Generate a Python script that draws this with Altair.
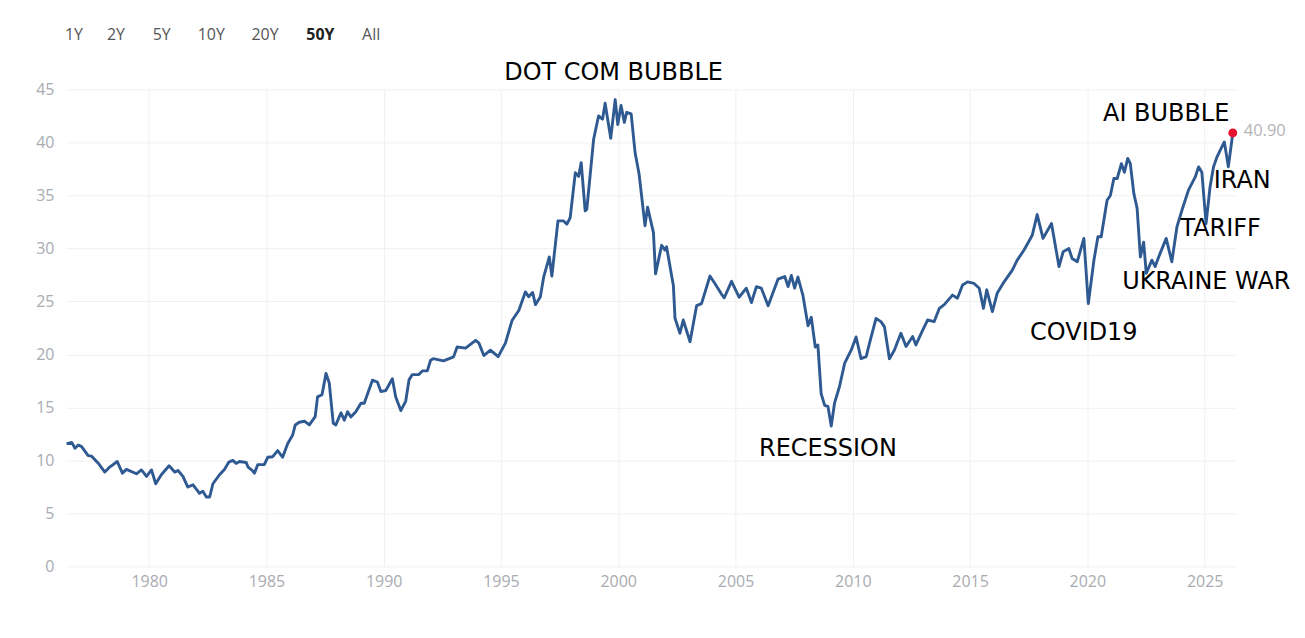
import altair as alt
import pandas as pd

years = [
    1976.48, 1976.70, 1976.84, 1976.98, 1977.12, 1977.40, 1977.55, 1977.83, 1978.11, 1978.32,
    1978.64, 1978.86, 1979.03, 1979.46, 1979.67, 1979.89, 1980.10, 1980.28, 1980.52, 1980.85,
    1981.09, 1981.23, 1981.44, 1981.65, 1981.87, 1982.15, 1982.29, 1982.44, 1982.58, 1982.72,
    1983.00, 1983.21, 1983.40, 1983.57, 1983.71, 1983.85, 1984.14, 1984.21, 1984.42, 1984.49,
    1984.63, 1984.91, 1985.06, 1985.27, 1985.48, 1985.69, 1985.91, 1986.12, 1986.23, 1986.40,
    1986.62, 1986.83, 1987.08, 1987.18, 1987.37, 1987.54, 1987.68, 1987.85, 1987.96, 1988.18,
    1988.32, 1988.46, 1988.60, 1988.81, 1989.03, 1989.17, 1989.52, 1989.73, 1989.88, 1990.09,
    1990.37, 1990.51, 1990.73, 1990.94, 1991.08, 1991.22, 1991.50, 1991.65, 1991.86, 1992.00,
    1992.11, 1992.55, 1992.98, 1993.13, 1993.49, 1993.92, 1994.06, 1994.27, 1994.55, 1994.88,
    1995.19, 1995.47, 1995.76, 1996.04, 1996.18, 1996.35, 1996.47, 1996.68, 1996.82, 1997.06,
    1997.17, 1997.43, 1997.67, 1997.81, 1997.95, 1998.17, 1998.31, 1998.42, 1998.59, 1998.66,
    1998.95, 1999.16, 1999.33, 1999.44, 1999.68, 1999.87, 1999.98, 2000.12, 2000.26, 2000.36,
    2000.55, 2000.72, 2000.89, 2001.14, 2001.25, 2001.50, 2001.59, 2001.85, 2001.99, 2002.06,
    2002.35, 2002.42, 2002.63, 2002.77, 2003.06, 2003.34, 2003.55, 2003.91, 2004.12, 2004.40,
    2004.52, 2004.83, 2005.15, 2005.46, 2005.68, 2005.89, 2006.10, 2006.39, 2006.81, 2007.10,
    2007.24, 2007.38, 2007.52, 2007.66, 2007.87, 2008.09, 2008.23, 2008.40, 2008.51, 2008.65,
    2008.80, 2008.94, 2009.08, 2009.22, 2009.43, 2009.65, 2009.93, 2010.14, 2010.35, 2010.57,
    2010.71, 2010.99, 2011.20, 2011.35, 2011.56, 2011.77,
    2012.05, 2012.27, 2012.55, 2012.69, 2012.98, 2013.19, 2013.47, 2013.69, 2013.90, 2014.25,
    2014.46, 2014.68, 2014.89, 2015.17, 2015.39, 2015.57, 2015.71, 2015.95, 2016.16, 2016.45,
    2016.80, 2017.01, 2017.30, 2017.65, 2017.86, 2018.11, 2018.47, 2018.79, 2018.97, 2019.21,
    2019.35, 2019.57, 2019.85, 2020.04, 2020.28, 2020.45, 2020.59, 2020.84, 2020.98, 2021.13,
    2021.27, 2021.45, 2021.58, 2021.72, 2021.83, 2021.98, 2022.12, 2022.26, 2022.40, 2022.51,
    2022.75, 2022.89, 2023.04, 2023.36, 2023.60, 2023.82, 2024.03, 2024.31, 2024.60, 2024.74,
    2024.88, 2025.06, 2025.23, 2025.38, 2025.52, 2025.66, 2025.84, 2026.01, 2026.20,
]
values = [
    11.56, 11.70, 11.15, 11.45, 11.30, 10.46, 10.40, 9.74, 8.90, 9.37,
    9.90, 8.80, 9.15, 8.74, 9.10, 8.49, 9.10, 7.80, 8.65, 9.50,
    8.90, 9.05, 8.50, 7.49, 7.70, 6.90, 7.10, 6.55, 6.55, 7.80,
    8.65, 9.15, 9.84, 10.00, 9.72, 9.90, 9.80, 9.40, 9.00, 8.80,
    9.60, 9.60, 10.30, 10.35, 10.93, 10.30, 11.60, 12.40, 13.35, 13.60,
    13.70, 13.35, 14.13, 16.00, 16.20, 18.20, 17.30, 13.50, 13.35, 14.50,
    13.80, 14.60, 14.10, 14.60, 15.40, 15.40, 17.57, 17.40, 16.50, 16.60,
    17.70, 16.00, 14.70, 15.60, 17.60, 18.10, 18.10, 18.45, 18.45, 19.45,
    19.60, 19.40, 19.77, 20.70, 20.60, 21.33, 21.07, 19.90, 20.40, 19.80,
    21.07, 23.20, 24.15, 25.90, 25.45, 25.85, 24.70, 25.45, 27.30, 29.20,
    27.40, 32.60, 32.60, 32.30, 32.90, 37.15, 36.80, 38.10, 33.55, 33.70,
    40.30, 42.50, 42.20, 43.70, 40.40, 44.05, 41.70, 43.50, 41.90, 42.85,
    42.70, 39.00, 37.00, 32.15, 33.90, 31.50, 27.60, 30.30, 29.85, 30.15,
    26.50, 23.40, 22.00, 23.25, 21.20, 24.60, 24.80, 27.40, 26.70, 25.70,
    25.35, 26.90, 25.40, 26.25, 24.90, 26.40, 26.25, 24.60, 27.10, 27.35,
    26.40, 27.45, 26.25, 27.30, 25.60, 22.70, 23.50, 20.70, 20.90, 16.30,
    15.20, 15.10, 13.25, 15.40, 16.95, 19.15, 20.40, 21.65, 19.60, 19.80,
    21.05, 23.40, 23.10, 22.60, 19.60, 20.40,
    22.00, 20.75, 21.70, 20.90, 22.30, 23.25, 23.10, 24.35, 24.70, 25.60,
    25.30, 26.55, 26.85, 26.70, 26.25, 24.35, 26.10, 24.05, 25.80, 26.85,
    27.95, 28.90, 29.85, 31.25, 33.20, 30.95, 32.35, 28.30, 29.70, 30.00,
    29.05, 28.75, 30.95, 24.80, 28.90, 31.10, 31.10, 34.55, 35.00, 36.60,
    36.60, 38.00, 37.20, 38.50, 38.00, 35.20, 33.80, 29.20, 30.60, 27.65,
    28.90, 28.30, 29.20, 30.95, 28.75, 32.05, 33.60, 35.50, 36.75, 37.70,
    37.20, 32.35, 35.80, 37.70, 38.60, 39.25, 40.05, 37.70, 40.90,
]

x_ticks = [1980, 1985, 1990, 1995, 2000, 2005, 2010, 2015, 2020, 2025]
y_ticks = [0, 5, 10, 15, 20, 25, 30, 35, 40, 45]

ann_labels = ["DOT COM BUBBLE", "RECESSION", "COVID19", "UKRAINE WAR", "TARIFF", "IRAN", "AI BUBBLE"]
ann_years = [1999.80, 2008.94, 2019.85, 2025.07, 2025.68, 2026.60, 2023.36]
ann_values = [46.6, 11.1, 22.0, 26.8, 31.85, 36.4, 42.7]

btn_labels = ["1Y", "2Y", "5Y", "10Y", "20Y", "50Y", "All"]
btn_years = [1976.41, 1978.20, 1980.15, 1982.07, 1984.36, 1986.70, 1989.08]
btn_value = 50.17
btn_active = [False, False, False, False, False, True, False]

last_label = "40.90"

df = pd.DataFrame({"year": years, "value": values})
ann = pd.DataFrame({"year": ann_years, "value": ann_values, "label": ann_labels})
btn = pd.DataFrame({"year": btn_years, "value": [btn_value] * len(btn_labels),
                    "label": btn_labels, "active": btn_active})
last = pd.DataFrame({"year": [years[-1]], "value": [values[-1]], "label": [last_label]})

xscale = alt.Scale(domain=[1976.45, 2026.3], nice=False, zero=False)
yscale = alt.Scale(domain=[0, 45], nice=False)

line = alt.Chart(df).mark_line(color="#2f5a91", strokeWidth=2.9, strokeJoin="round").encode(
    x=alt.X("year:Q", scale=xscale,
            axis=alt.Axis(values=x_ticks, format="d", title=None, grid=True, gridColor="#f0f0f2",
                          domain=False, ticks=False, labelColor="#a9abb1", labelFont="Open Sans",
                          labelFontSize=16, labelPadding=7, labelFlush=False)),
    y=alt.Y("value:Q", scale=yscale,
            axis=alt.Axis(values=y_ticks, title=None, grid=True, gridColor="#f0f0f2",
                          domain=False, ticks=False, labelColor="#a9abb1", labelFont="Open Sans",
                          labelFontSize=16, labelPadding=12)),
)

dot = alt.Chart(last).mark_circle(color="#e8112d", size=80, opacity=1).encode(
    x=alt.X("year:Q", scale=xscale), y=alt.Y("value:Q", scale=yscale))

last_text = alt.Chart(last).mark_text(align="left", baseline="middle", dx=11, dy=-2,
                                      font="Open Sans", fontSize=16.5, color="#b4b4b8").encode(
    x=alt.X("year:Q", scale=xscale), y=alt.Y("value:Q", scale=yscale), text="label:N")

ann_text = alt.Chart(ann).mark_text(align="center", baseline="middle", font="DejaVu Sans",
                                    fontSize=24, color="#000000").encode(
    x=alt.X("year:Q", scale=xscale), y=alt.Y("value:Q", scale=yscale), text="label:N")

btn_normal = alt.Chart(btn).transform_filter("!datum.active").mark_text(
    align="left", baseline="middle", font="Open Sans", fontSize=16, color="#555555").encode(
    x=alt.X("year:Q", scale=xscale), y=alt.Y("value:Q", scale=yscale), text="label:N")

btn_bold = alt.Chart(btn).transform_filter("datum.active").mark_text(
    align="left", baseline="middle", font="Open Sans", fontSize=16, fontWeight="bold",
    color="#222222").encode(
    x=alt.X("year:Q", scale=xscale), y=alt.Y("value:Q", scale=yscale), text="label:N")

chart = alt.layer(line, dot, last_text, ann_text, btn_normal, btn_bold).properties(
    width=1172, height=478,
    autosize=alt.AutoSizeParams(type="none"),
    padding={"left": 58, "top": 81, "right": 62, "bottom": 42},
    background="white",
).configure_view(stroke=None)

chart.save("out.html", embed_options={"renderer": "svg", "actions": False})
